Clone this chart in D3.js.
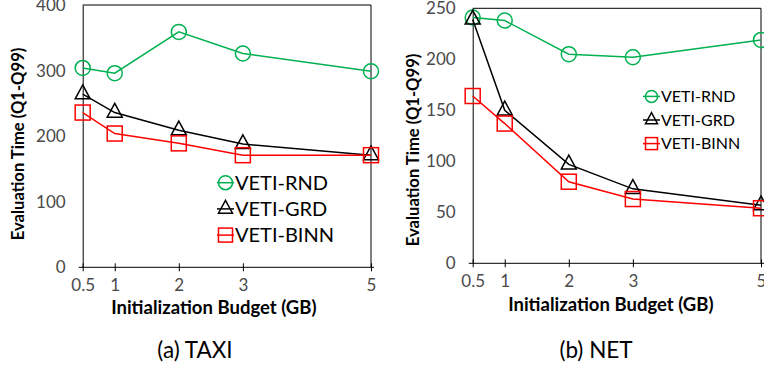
<!DOCTYPE html>
<html>
<head>
<meta charset="utf-8">
<script src="https://cdn.jsdelivr.net/npm/d3@7"></script>
<style>
  html, body { margin: 0; padding: 0; background: #fff; }
  svg { display: block; }
  text { font-family: Lato, "Open Sans", sans-serif; }
</style>
</head>
<body>
<svg id="chart" width="764" height="367"></svg>
<script>
// Initialization budgets (GB) shared by both panels
const budgets = [0.5, 1, 2, 3, 5];
const xTickLabels = ["0.5", "1", "2", "3", "5"];

// Series names
const seriesNames = ["VETI-RND", "VETI-GRD", "VETI-BINN"];

// (a) TAXI evaluation time (Q1-Q99)
const taxiRnd  = [304, 296, 359, 326, 299];
const taxiGrd  = [264, 236, 209, 188, 171];
const taxiBinn = [236, 204, 189, 171, 171];
const taxiYTicks = [0, 100, 200, 300, 400];

// (b) NET evaluation time (Q1-Q99)
const netRnd  = [241, 238, 205, 202, 219];
const netGrd  = [239, 150, 97, 73, 57];
const netBinn = [164, 137, 80, 63, 54];
const netYTicks = [0, 50, 100, 150, 200, 250];

const colors = { "VETI-RND": "#00b050", "VETI-GRD": "#000000", "VETI-BINN": "#ff0000" };
const shapes = { "VETI-RND": "circle", "VETI-GRD": "triangle", "VETI-BINN": "square" };

const svg = d3.select("#chart");

function marker(g, shape, cx, cy, size, color) {
  if (shape === "circle") {
    g.append("circle").attr("cx", cx).attr("cy", cy).attr("r", size / 2)
      .attr("fill", "none").attr("stroke", color).attr("stroke-width", 1.5);
  } else if (shape === "square") {
    g.append("rect").attr("x", cx - size / 2).attr("y", cy - size / 2)
      .attr("width", size).attr("height", size)
      .attr("fill", "none").attr("stroke", color).attr("stroke-width", 1.5);
  } else {
    const h = size * 0.92;
    const p = `M${cx},${cy - h * 2 / 3}L${cx + size / 2},${cy + h / 3}L${cx - size / 2},${cy + h / 3}Z`;
    g.append("path").attr("d", p)
      .attr("fill", "none").attr("stroke", color).attr("stroke-width", 1.5);
  }
}

function panel(opt) {
  const g = svg.append("g");
  const x = d3.scaleLinear().domain([0.5, 5]).range([opt.left, opt.right]);
  const y = d3.scaleLinear().domain([0, opt.yMax]).range([opt.bottom, opt.top]);

  // frame: top and right edges
  g.append("line").attr("x1", opt.left).attr("x2", opt.right)
    .attr("y1", opt.top).attr("y2", opt.top).attr("stroke", "#000").attr("stroke-width", 1);
  g.append("line").attr("x1", opt.right).attr("x2", opt.right)
    .attr("y1", opt.top).attr("y2", opt.bottom).attr("stroke", "#000").attr("stroke-width", 1);

  // y axis (line only, labels on the left)
  const yAxis = d3.axisLeft(y).tickValues(opt.yTicks).tickSize(0).tickPadding(opt.yPad);
  const ya = g.append("g").attr("transform", `translate(${opt.left},0)`).call(yAxis);
  ya.select(".domain").attr("stroke", "#000").attr("stroke-width", 1);
  ya.selectAll("text").attr("font-size", 17).attr("fill", "#4a4a4a")
    .attr("font-family", "Lato, sans-serif");

  // x axis: line with ticks crossing it
  const xAxis = d3.axisBottom(x).tickValues(budgets)
    .tickFormat((d, i) => xTickLabels[i]).tickSizeInner(4).tickSizeOuter(0).tickPadding(8);
  const xa = g.append("g").attr("transform", `translate(0,${opt.bottom})`).call(xAxis);
  xa.select(".domain").attr("d", `M${opt.left - 4},0H${opt.right + 3}`).attr("stroke", "#000");
  xa.selectAll(".tick line").attr("y1", -4).attr("y2", 4).attr("stroke", "#000");
  xa.selectAll("text").attr("font-size", 17).attr("fill", "#4a4a4a")
    .attr("font-family", "Lato, sans-serif");

  // series lines and markers
  const line = d3.line().x((d, i) => x(budgets[i])).y(d => y(d));
  opt.series.forEach((vals, si) => {
    const name = seriesNames[si];
    g.append("path").datum(vals).attr("d", line)
      .attr("fill", "none").attr("stroke", colors[name]).attr("stroke-width", 1.5);
    vals.forEach((v, i) => marker(g, shapes[name], x(budgets[i]), y(v), 15, colors[name]));
  });

  // legend
  seriesNames.forEach((name, i) => {
    const ly = opt.legY + i * opt.legStep;
    const lx = opt.legX;
    g.append("line").attr("x1", lx).attr("x2", lx + opt.legLine)
      .attr("y1", ly).attr("y2", ly).attr("stroke", colors[name]).attr("stroke-width", 1.5);
    marker(g, shapes[name], lx + opt.legLine / 2, ly, opt.legMark, colors[name]);
    g.append("text").attr("x", lx + opt.legLine + 1).attr("y", ly)
      .attr("dy", "0.36em").attr("font-size", opt.legFont).attr("fill", "#000").text(name);
  });

  // axis titles
  g.append("text").attr("x", (opt.left + opt.right) / 2 + opt.xtShift).attr("y", opt.xTitleY)
    .attr("text-anchor", "middle").attr("dy", "0.35em")
    .attr("font-size", 18.5).attr("font-weight", "bold").attr("fill", "#000")
    .text("Initialization Budget (GB)");
  g.append("text")
    .attr("transform", `translate(${opt.yTitleX},${opt.yTitleY}) rotate(-90)`)
    .attr("text-anchor", "middle").attr("dy", "0.35em")
    .attr("font-size", 16.6).attr("font-weight", "bold").attr("fill", "#000")
    .text("Evaluation Time (Q1-Q99)");

  // caption
  g.append("text").attr("x", opt.capX).attr("y", 350)
    .attr("text-anchor", "middle").attr("dy", "0.35em")
    .attr("font-size", 22.5).attr("fill", "#000").text(opt.caption);
}

panel({
  left: 82.7, right: 371, top: 5, bottom: 267.3, yMax: 400, yTicks: taxiYTicks, yPad: 17,
  series: [taxiRnd, taxiGrd, taxiBinn],
  legX: 217, legY: 182.7, legStep: 26.2, legLine: 17, legMark: 14, legFont: 20,
  xTitleY: 308, xtShift: -13, yTitleX: 18, yTitleY: 144, capX: 195, caption: "(a) TAXI"
});

panel({
  left: 472.7, right: 761, top: 8.3, bottom: 263.3, yMax: 250, yTicks: netYTicks, yPad: 17,
  series: [netRnd, netGrd, netBinn],
  legX: 643, legY: 96.4, legStep: 23.6, legLine: 17, legMark: 12, legFont: 16,
  xTitleY: 305, xtShift: -6, yTitleX: 412.7, yTitleY: 150, capX: 596, caption: "(b) NET"
});
</script>
</body>
</html>
